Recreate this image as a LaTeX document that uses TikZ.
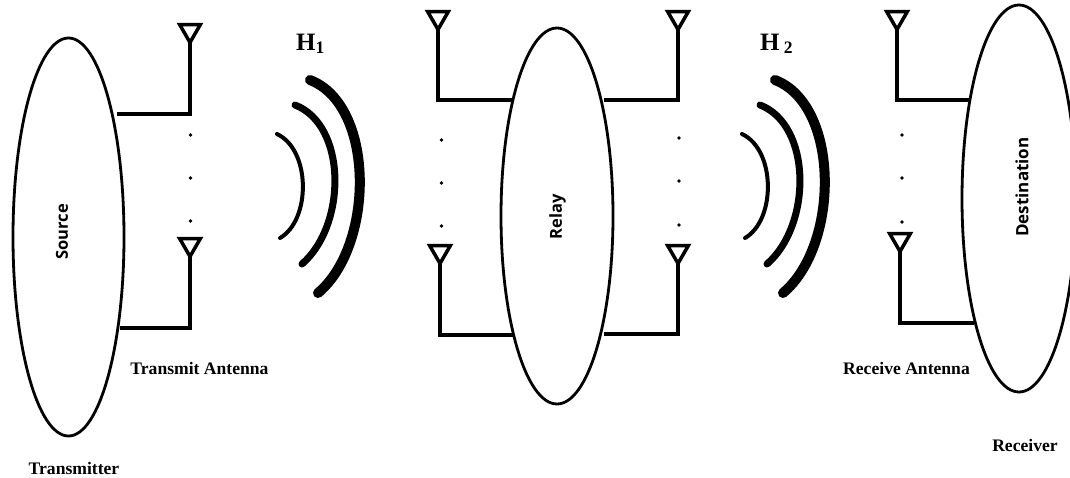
\documentclass[tikz,border=0pt]{standalone}
\usepackage{fontspec}
\setmainfont{Liberation Serif}
\setsansfont{Open Sans}
\usetikzlibrary{shapes.geometric}
\tikzset{
    party/.style={draw,ellipse,line width=2.8pt,inner sep=0pt,outer sep=0pt},
    antenna/.style={draw,regular polygon,regular polygon sides=3,shape border rotate=180,
        minimum size=24pt,inner sep=0pt,outer sep=0pt,line width=3.5pt},
    wire/.style={line width=3.5pt},
    dotmark/.style={circle,fill,inner sep=0pt,minimum size=3.6pt},
    caption/.style={font=\fontsize{17.6}{19}\selectfont\bfseries},
    channel/.style={font=\fontsize{25}{27}\selectfont\bfseries,anchor=base west,inner sep=0pt},
    partyname/.style={rotate=90,font=\fontsize{16.5}{19}\selectfont\sffamily\bfseries},
    wave/.style={line cap=round}
}
\begin{document}
\begin{tikzpicture}[x=1pt,y=-1pt]
    \clip (0,0) rectangle (1070,477);
    \node[party,minimum width=111pt,minimum height=398pt] (source) at (68.5,237) {};
    \node[party,minimum width=112pt,minimum height=376pt] (relay) at (557,216) {};
    \node[party,minimum width=114pt,minimum height=387pt] (destination) at (1019,198.5) {};
    \node[partyname] (sourcename) at (62,232) {Source};
    \node[partyname] (relayname) at (557.5,217) {Relay};
    \node[partyname,font=\fontsize{17}{19}\selectfont\sffamily\bfseries] (destinationname) at (1022,187) {Destination};

    \coordinate (s1) at (117,114);
    \coordinate (s2) at (120,328);
    \coordinate (r1) at (512,100);
    \coordinate (r2) at (513,335);
    \coordinate (r3) at (604,100);
    \coordinate (r4) at (604,334);
    \coordinate (d1) at (970,100);
    \coordinate (d2) at (974,323);

    \node[antenna] (as1) at (190,30.5) {};
    \node[antenna] (as2) at (190,244.5) {};
    \node[antenna] (ar1) at (438,17.5) {};
    \node[antenna] (ar2) at (440,251.5) {};
    \node[antenna] (ar3) at (678,17.5) {};
    \node[antenna] (ar4) at (678,251.5) {};
    \node[antenna] (ad1) at (897,17.5) {};
    \node[antenna] (ad2) at (900,239.5) {};

    \draw[wire](as1.corner 1)|-(s1);
    \draw[wire](as2.corner 1)|-(s2);
    \draw[wire](ar1.corner 1)|-(r1);
    \draw[wire](ar2.corner 1)|-(r2);
    \draw[wire](ar3.corner 1)|-(r3);
    \draw[wire](ar4.corner 1)|-(r4);
    \draw[wire](ad1.corner 1)|-(d1);
    \draw[wire](ad2.corner 1)|-(d2);

    \foreach \x/\ya/\yb/\yc/\n in {190.5/135/178/221/s,441.5/140/183/226/l,679/138/181/225/r,902/135/178/222/d}{
        \node[dotmark] (dot\n1) at (\x,\ya) {};
        \node[dotmark] (dot\n2) at (\x,\yb) {};
        \node[dotmark] (dot\n3) at (\x,\yc) {};
    }

    \foreach \dx in {0,465}{
        \draw[wave,line width=4pt,xshift=\dx pt](277,134) .. controls (311,150) and (311,220) .. (280,238);
        \draw[wave,line width=7pt,xshift=\dx pt](295,105) .. controls (347,125) and (347,225) .. (302,264);
        \draw[wave,line width=10pt,xshift=\dx pt](310,80) .. controls (375,105) and (375,245) .. (318,293);
    }

    \node[channel] (h1) at (296,50) {H\textsubscript{1}};
    \node[channel] (h2) at (760,50) {H\,\textsubscript{2}};
    \node[caption] (transmitantenna) at (199.5,368) {Transmit Antenna};
    \node[caption] (transmitter) at (74,468) {Transmitter};
    \node[caption] (receiveantenna) at (906.5,368) {Receive Antenna};
    \node[caption] (receiver) at (1025,445) {Receiver};
\end{tikzpicture}
\end{document}
